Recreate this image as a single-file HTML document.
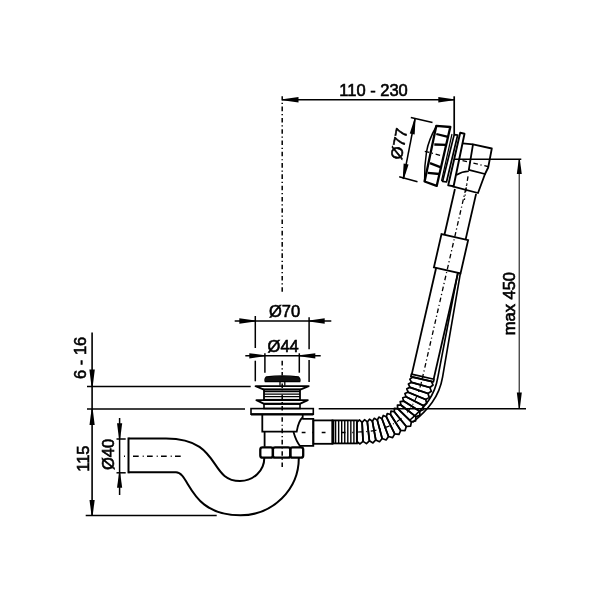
<!DOCTYPE html>
<html><head><meta charset="utf-8"><style>
html,body{margin:0;padding:0;background:#fff;}
svg{display:block;will-change:transform;}
text{font-family:"Liberation Sans",sans-serif;fill:#000;stroke:#000;stroke-width:0.6px;}
</style></head><body>
<svg width="600" height="600" viewBox="0 0 600 600" stroke="#000" fill="none">
<rect x="0" y="0" width="600" height="600" fill="#fff" stroke="none"/>
<line x1="282.20" y1="99.80" x2="454.20" y2="99.80" stroke-width="1.6" />
<polygon points="282.60,99.25 298.50,97.00 298.50,102.60 282.60,100.35" fill="#000" stroke="none"/>
<polygon points="453.80,100.35 438.30,102.60 438.30,97.00 453.80,99.25" fill="#000" stroke="none"/>
<text x="373.50" y="90.00" font-size="16.5" text-anchor="middle" dominant-baseline="central">110 - 230</text>
<line x1="454.20" y1="96.30" x2="454.20" y2="134.50" stroke-width="1.7" />
<line x1="282.20" y1="96.30" x2="282.20" y2="100.50" stroke-width="1.5" />
<line x1="282.20" y1="102.70" x2="282.20" y2="291.90" stroke-width="1.5" stroke-dasharray="1.2 2.7 4.6 2.79"/>
<line x1="282.20" y1="360.80" x2="282.20" y2="375.50" stroke-width="1.5" stroke-dasharray="4.6 2.79 1.2 2.7"/>
<line x1="282.20" y1="383.40" x2="282.20" y2="468.00" stroke-width="1.5" stroke-dasharray="4.6 2.79 1.2 2.7"/>
<line x1="234.70" y1="321.00" x2="331.30" y2="321.00" stroke-width="1.6" />
<polygon points="255.30,321.55 239.30,323.70 239.30,318.30 255.30,320.45" fill="#000" stroke="none"/>
<polygon points="309.10,320.45 324.70,318.30 324.70,323.70 309.10,321.55" fill="#000" stroke="none"/>
<line x1="255.30" y1="316.00" x2="255.30" y2="348.00" stroke-width="1.5" />
<line x1="255.30" y1="360.70" x2="255.30" y2="381.30" stroke-width="1.5" />
<line x1="309.10" y1="317.30" x2="309.10" y2="349.30" stroke-width="1.5" />
<line x1="309.10" y1="360.00" x2="309.10" y2="382.00" stroke-width="1.5" />
<text x="284.60" y="310.50" font-size="16.5" text-anchor="middle" dominant-baseline="central">Ø70</text>
<line x1="245.30" y1="355.80" x2="320.70" y2="355.80" stroke-width="1.5" />
<polygon points="264.90,356.35 249.30,358.40 249.30,353.20 264.90,355.25" fill="#000" stroke="none"/>
<polygon points="299.30,355.25 315.30,353.20 315.30,358.40 299.30,356.35" fill="#000" stroke="none"/>
<line x1="264.90" y1="353.30" x2="264.90" y2="372.70" stroke-width="1.5" />
<line x1="299.30" y1="353.30" x2="299.30" y2="372.70" stroke-width="1.5" />
<text x="283.20" y="346.30" font-size="16.5" text-anchor="middle" dominant-baseline="central">Ø44</text>
<line x1="92.10" y1="332.50" x2="92.10" y2="515.50" stroke-width="1.6" />
<polygon points="91.55,386.70 89.40,369.60 94.80,369.60 92.65,386.70" fill="#000" stroke="none"/>
<polygon points="92.65,409.00 94.70,425.00 89.50,425.00 91.55,409.00" fill="#000" stroke="none"/>
<polygon points="91.55,515.50 89.50,500.00 94.70,500.00 92.65,515.50" fill="#000" stroke="none"/>
<line x1="87.00" y1="386.60" x2="250.70" y2="386.60" stroke-width="1.5" />
<line x1="87.00" y1="409.00" x2="245.00" y2="409.00" stroke-width="1.5" />
<line x1="318.70" y1="408.80" x2="526.00" y2="408.80" stroke-width="1.5" />
<line x1="85.70" y1="515.60" x2="216.70" y2="515.60" stroke-width="1.5" />
<text x="80.00" y="357.80" font-size="16.5" text-anchor="middle" dominant-baseline="central" transform="rotate(-90 80.00 357.80)">6 - 16</text>
<text x="83.40" y="458.60" font-size="16.5" text-anchor="middle" dominant-baseline="central" transform="rotate(-90 83.40 458.60)">115</text>
<line x1="119.60" y1="418.00" x2="119.60" y2="495.00" stroke-width="1.5" />
<line x1="116.50" y1="439.00" x2="125.70" y2="439.00" stroke-width="1.5" />
<line x1="116.50" y1="472.80" x2="125.70" y2="472.80" stroke-width="1.5" />
<polygon points="119.05,438.80 117.00,423.30 122.20,423.30 120.15,438.80" fill="#000" stroke="none"/>
<polygon points="120.15,473.00 122.20,487.80 117.00,487.80 119.05,473.00" fill="#000" stroke="none"/>
<text x="108.10" y="454.50" font-size="16.5" text-anchor="middle" dominant-baseline="central" transform="rotate(-90 108.10 454.50)">Ø40</text>
<line x1="124.00" y1="456.30" x2="125.00" y2="456.30" stroke-width="1.5" />
<line x1="133.00" y1="456.30" x2="181.50" y2="456.30" stroke-width="1.5" stroke-dasharray="5.7 4 1 3.3"/>
<line x1="455.00" y1="159.30" x2="521.30" y2="159.30" stroke-width="1.5" />
<line x1="519.20" y1="159.30" x2="519.20" y2="408.50" stroke-width="1.0" />
<polygon points="519.85,159.50 521.80,174.00 516.80,174.00 518.75,159.50" fill="#000" stroke="none"/>
<polygon points="518.75,408.30 516.80,392.50 521.80,392.50 519.85,408.30" fill="#000" stroke="none"/>
<text x="509.40" y="303.60" font-size="16.5" text-anchor="middle" dominant-baseline="central" transform="rotate(-90 509.40 303.60)">max 450</text>
<line x1="410.80" y1="117.50" x2="432.50" y2="122.50" stroke-width="1.5" />
<line x1="399.20" y1="176.70" x2="417.50" y2="181.70" stroke-width="1.5" />
<line x1="415.00" y1="119.00" x2="403.30" y2="179.00" stroke-width="1.5" />
<polygon points="415.54,119.10 414.66,134.46 409.74,133.54 414.46,118.90" fill="#000" stroke="none"/>
<polygon points="402.76,178.90 403.64,163.54 408.56,164.46 403.84,179.10" fill="#000" stroke="none"/>
<text x="398.70" y="143.70" font-size="16.5" text-anchor="middle" dominant-baseline="central" transform="rotate(-79 398.70 143.70)">Ø77</text>
<path d="M128.5,438.5 L166,438.5 C222,438.5 208,481 240,481 A24.3,23 0 0 0 264.3,458" fill="none" stroke-width="2.0" />
<path d="M128.5,472.3 L176,472.3 C190,472.3 188.5,515.3 240.5,515.3 A58.3,57.3 0 0 0 298.8,458" fill="none" stroke-width="2.0" />
<line x1="128.50" y1="437.50" x2="128.50" y2="473.30" stroke-width="2.0" />
<path d="M265.3,381.7 Q264.3,379 266.3,376.9 Q282.5,374.9 298.5,376.9 Q300.6,379 299.7,381.7 Z" fill="#111" stroke-width="1.3" />
<line x1="280.00" y1="381.60" x2="280.00" y2="385.80" stroke-width="1.3" />
<line x1="284.80" y1="381.60" x2="284.80" y2="385.80" stroke-width="1.3" />
<path d="M255.6,386.1 L308.7,386.1 L300.3,389.6 L263.9,389.6 Z" fill="none" stroke-width="1.9" stroke-linejoin="round"/>
<rect x="264" y="389.4" width="36" height="10.4" fill="none" stroke-width="1.8"/>
<line x1="264.00" y1="391.70" x2="300.00" y2="391.70" stroke-width="1.3" />
<line x1="264.00" y1="394.10" x2="300.00" y2="394.10" stroke-width="1.3" />
<line x1="264.00" y1="396.60" x2="300.00" y2="396.60" stroke-width="1.3" />
<path d="M256.4,400.1 L307.8,400.1 L300.3,403.7 L263.6,403.7 Z" fill="none" stroke-width="1.9" stroke-linejoin="round"/>
<rect x="264" y="404" width="36" height="4.5" fill="none" stroke-width="1.6"/>
<rect x="251" y="408.6" width="62.3" height="5.6" fill="none" stroke-width="1.6"/>
<line x1="251.00" y1="414.40" x2="313.30" y2="414.40" stroke-width="2.4" />
<path d="M262.3,414.5 L262.3,431.6 L296.7,431.6 Q298.5,421 302.7,417.3 L302.7,414.5" fill="none" stroke-width="1.8" />
<path d="M264.6,431.6 L264.6,446.8 M293.5,432 Q296,441 300.5,446.8" fill="none" stroke-width="1.8" />
<path d="M302.2,418.8 L313.3,418.8 L313.3,445.8 L300,445.8" fill="none" stroke-width="1.8" />
<rect x="313.3" y="420.4" width="19.2" height="23.4" fill="none" stroke-width="1.8"/>
<line x1="301.70" y1="432.50" x2="356.00" y2="432.50" stroke-width="1.4" stroke-dasharray="3.8 6.8 1 8.4"/>
<rect x="260.3" y="447.4" width="12.6" height="10.2" rx="2.2" fill="none" stroke-width="2.3"/>
<rect x="272.9" y="447.4" width="17.4" height="10.2" rx="2.2" fill="none" stroke-width="2.3"/>
<rect x="290.3" y="447.4" width="12.9" height="10.2" rx="2.2" fill="none" stroke-width="2.3"/>
<rect x="332.5" y="420.4" width="24.5" height="23" fill="none" stroke-width="1.8"/>
<line x1="333.20" y1="420.40" x2="333.20" y2="443.40" stroke-width="2.2" />
<line x1="335.60" y1="420.40" x2="335.60" y2="443.40" stroke-width="1.4" />
<line x1="338.65" y1="420.40" x2="338.65" y2="443.40" stroke-width="1.4" />
<line x1="341.70" y1="420.40" x2="341.70" y2="443.40" stroke-width="1.4" />
<line x1="344.75" y1="420.40" x2="344.75" y2="443.40" stroke-width="1.4" />
<line x1="347.80" y1="420.40" x2="347.80" y2="443.40" stroke-width="1.4" />
<line x1="350.85" y1="420.40" x2="350.85" y2="443.40" stroke-width="1.4" />
<line x1="353.90" y1="420.40" x2="353.90" y2="443.40" stroke-width="1.4" />
<polygon points="359.40,419.97 362.10,422.37 363.06,441.34 359.98,443.96 356.80,441.50 356.80,422.50" fill="none" stroke-width="1.7" stroke-linejoin="round"/>
<polygon points="364.52,419.71 367.31,421.95 369.39,440.84 366.42,443.63 363.06,441.34 362.10,422.37" fill="none" stroke-width="1.7" stroke-linejoin="round"/>
<polygon points="369.51,419.16 372.38,421.22 375.76,439.92 372.93,442.91 369.39,440.84 367.31,421.95" fill="none" stroke-width="1.7" stroke-linejoin="round"/>
<polygon points="374.32,418.28 377.29,420.14 382.15,438.50 379.50,441.72 375.76,439.92 372.38,421.22" fill="none" stroke-width="1.7" stroke-linejoin="round"/>
<polygon points="378.91,417.07 381.97,418.67 388.51,436.51 386.09,439.97 382.15,438.50 377.29,420.14" fill="none" stroke-width="1.7" stroke-linejoin="round"/>
<polygon points="383.24,415.48 386.39,416.79 394.73,433.86 392.62,437.57 388.51,436.51 381.97,418.67" fill="none" stroke-width="1.7" stroke-linejoin="round"/>
<polygon points="387.27,413.51 390.51,414.49 400.71,430.52 398.98,434.46 394.73,433.86 386.39,416.79" fill="none" stroke-width="1.7" stroke-linejoin="round"/>
<polygon points="390.98,411.15 394.29,411.75 406.30,426.48 405.02,430.61 400.71,430.52 390.51,414.49" fill="none" stroke-width="1.7" stroke-linejoin="round"/>
<polygon points="394.37,408.38 397.74,408.59 411.37,421.83 410.59,426.07 406.30,426.48 394.29,411.75" fill="none" stroke-width="1.7" stroke-linejoin="round"/>
<polygon points="397.45,405.21 400.85,405.01 415.85,416.67 415.58,420.94 411.37,421.83 397.74,408.59" fill="none" stroke-width="1.7" stroke-linejoin="round"/>
<polygon points="400.22,401.65 403.61,401.05 419.71,411.16 419.90,415.38 415.85,416.67 400.85,405.01" fill="none" stroke-width="1.7" stroke-linejoin="round"/>
<polygon points="402.70,397.71 406.05,396.75 422.97,405.39 423.58,409.53 419.71,411.16 403.61,401.05" fill="none" stroke-width="1.7" stroke-linejoin="round"/>
<polygon points="404.88,393.44 408.17,392.16 425.70,399.48 426.67,403.50 422.97,405.39 406.05,396.75" fill="none" stroke-width="1.7" stroke-linejoin="round"/>
<polygon points="406.78,388.89 410.00,387.34 427.97,393.49 429.23,397.38 425.70,399.48 408.17,392.16" fill="none" stroke-width="1.7" stroke-linejoin="round"/>
<polygon points="408.42,384.11 411.55,382.32 429.85,387.45 431.34,391.21 427.97,393.49 410.00,387.34" fill="none" stroke-width="1.7" stroke-linejoin="round"/>
<polygon points="409.81,379.14 412.86,377.16 431.38,381.40 433.08,385.04 429.85,387.45 411.55,382.32" fill="none" stroke-width="1.7" stroke-linejoin="round"/>
<path d="M356.80,432.00 L358.64,431.99 L360.44,431.94 L362.22,431.87 L363.98,431.78 L365.70,431.65 L367.40,431.50 L369.07,431.32 L370.71,431.11 L372.32,430.87 L373.91,430.60 L375.47,430.30 L377.01,429.98 L378.52,429.63 L380.00,429.24 L381.45,428.83 L382.88,428.39 L384.29,427.93 L385.67,427.43 L387.02,426.90 L388.34,426.35 L389.65,425.76 L390.92,425.15 L392.17,424.50 L393.40,423.83 L394.60,423.13 L395.78,422.39 L396.93,421.63 L398.06,420.84 L399.16,420.02 L400.24,419.16 L401.29,418.28 L402.32,417.37 L403.33,416.43 L404.32,415.45 L405.28,414.45 L406.22,413.42 L407.13,412.35 L408.02,411.26 L408.89,410.13 L409.74,408.98 L410.56,407.79 L411.36,406.57 L412.14,405.32 L412.90,404.04 L413.63,402.73 L414.35,401.39 L415.04,400.02 L415.71,398.61 L416.36,397.18 L416.98,395.71 L417.59,394.21 L418.18,392.68 L418.74,391.11 L419.28,389.52 L419.81,387.89 L420.31,386.24 L420.79,384.54 L421.26,382.82 L421.70,381.07 L422.12,379.28" fill="none" stroke-width="1.2" stroke-dasharray="5.8 3.6 1 3.6"/>
<polygon points="410.81,376.69 433.43,381.87 434.03,379.24 411.42,374.06" fill="none" stroke-width="1.7" stroke-linejoin="round"/>
<polyline points="411.81,374.15 436.16,267.80" fill="none" stroke-width="1.8" />
<polyline points="433.64,379.15 458.00,272.80" fill="none" stroke-width="1.8" />
<polygon points="433.92,267.29 460.53,273.38 468.12,240.24 441.51,234.15" fill="none" stroke-width="1.8" />
<polyline points="444.44,234.82 454.93,189.00" fill="none" stroke-width="1.8" />
<polyline points="465.59,239.66 476.08,193.85" fill="none" stroke-width="1.8" />
<polyline points="422.30,378.50 466.95,183.55" fill="none" stroke-width="1.3" stroke-dasharray="4.6 2.6 1.2 2.8"/>
<path d="M460.4,273 L442.6,377 C439.2,397 428,410 412.5,422.5" fill="none" stroke-width="1.6" />
<path d="M457.8,273 L437.9,377 C434.8,396 425,407 410,420" fill="none" stroke-width="1.6" />
<path d="M436.3,125.8 L450.3,127 L436.7,185.9 L424.6,181.5 Z" fill="none" stroke-width="2.3" stroke-linejoin="round"/>
<path d="M436.3,126.5 Q428.5,140 426.5,152 Q424.2,166 424.6,181.5" fill="none" stroke-width="1.5" />
<line x1="436.30" y1="134.00" x2="448.00" y2="136.90" stroke-width="2.3" />
<line x1="434.30" y1="144.50" x2="446.20" y2="144.80" stroke-width="2.3" />
<line x1="430.00" y1="163.20" x2="440.90" y2="167.30" stroke-width="2.3" />
<line x1="427.80" y1="172.80" x2="439.40" y2="174.00" stroke-width="2.3" />
<line x1="424.80" y1="151.30" x2="441.50" y2="155.70" stroke-width="1.3" stroke-dasharray="4.6 2.6 1.2 2.8"/>
<path d="M454.2,134.6 L457.6,135.2 L446.5,182 L442.6,181.3 Z" fill="none" stroke-width="1.7" stroke-linejoin="round"/>
<line x1="452.00" y1="134.00" x2="441.50" y2="181.00" stroke-width="1.2" />
<path d="M460.2,132.8 L464.5,133.8 L453.6,186.2 L448.2,185.4 Z" fill="none" stroke-width="1.9" stroke-linejoin="round"/>
<polyline points="462.60,143.30 473.00,144.40" fill="none" stroke-width="1.8" />
<polygon points="473.00,144.40 491.80,148.50 488.20,167.50 485.00,174.00 468.80,169.80" fill="none" stroke-width="1.8" stroke-linejoin="round"/>
<polyline points="485.00,174.00 478.00,193.00 452.50,186.30" fill="none" stroke-width="1.8" />
<path d="M456.3,175 Q462,171.5 468.8,171.3" fill="none" stroke-width="1.6" />
<line x1="462.50" y1="160.60" x2="489.40" y2="166.90" stroke-width="1.3" stroke-dasharray="4.6 2.6 1.2 2.8"/>
<line x1="468.00" y1="176.30" x2="464.40" y2="200.00" stroke-width="1.3" stroke-dasharray="4.6 2.6 1.2 2.8"/>
</svg></body></html>
